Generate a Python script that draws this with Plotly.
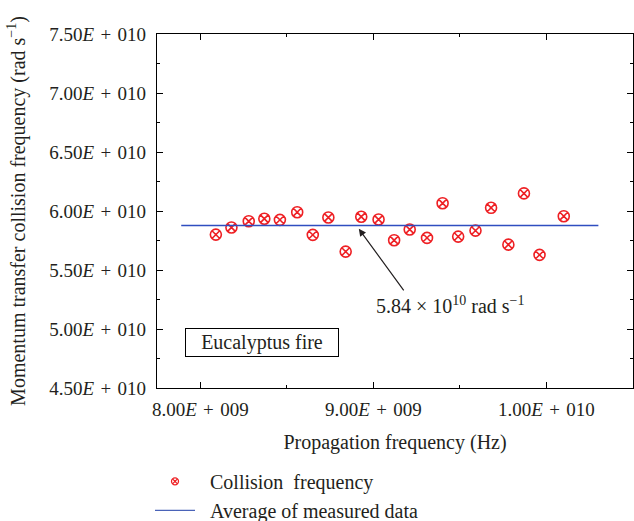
import plotly.graph_objects as go

# Data
freq_hz = [8.09e9, 8.18e9, 8.28e9, 8.37e9, 8.46e9, 8.56e9, 8.65e9, 8.74e9, 8.84e9, 8.93e9, 9.03e9,
           9.12e9, 9.21e9, 9.31e9, 9.40e9, 9.49e9, 9.59e9, 9.68e9, 9.78e9, 9.87e9, 9.96e9, 10.10e9]
collision = [5.80e10, 5.86e10, 5.913e10, 5.934e10, 5.925e10, 5.99e10, 5.798e10, 5.945e10, 5.656e10,
             5.951e10, 5.928e10, 5.752e10, 5.843e10, 5.772e10, 6.066e10, 5.783e10, 5.834e10,
             6.027e10, 5.715e10, 6.149e10, 5.628e10, 5.956e10]
avg_x = [7.89e9, 10.30e9]
avg_y = [5.877e10, 5.877e10]

SP = "\u2004"
x_tickvals = [8e9, 9e9, 10e9]
x_ticktext = [f"8.00<i>E</i>{SP}+{SP}009", f"9.00<i>E</i>{SP}+{SP}009", f"1.00<i>E</i>{SP}+{SP}010"]
y_tickvals = [4.5e10, 5.0e10, 5.5e10, 6.0e10, 6.5e10, 7.0e10, 7.5e10]
y_ticktext = [f"{v}<i>E</i>{SP}+{SP}010" for v in ["4.50", "5.00", "5.50", "6.00", "6.50", "7.00", "7.50"]]
x_minor = [8.5e9, 9.5e9, 10.5e9]
y_minor = [4.75e10, 5.25e10, 5.75e10, 6.25e10, 6.75e10, 7.25e10]

FONT = "Liberation Serif"
TXT = "#231f20"
RED = "#ee2024"
BLUE = "#2f4ec0"

fig = go.Figure()
fig.add_trace(go.Scatter(
    x=freq_hz, y=collision, mode="markers", name="Collision frequency", showlegend=False,
    marker=dict(symbol="circle-x-open", size=11, color=RED, line=dict(width=1.6, color=RED)),
))
fig.add_trace(go.Scatter(
    x=avg_x, y=avg_y, mode="lines", name="Average of measured data", showlegend=False,
    line=dict(color=BLUE, width=1.5),
))
# legend-only entries (no data) so the legend symbols match the reference sizes
fig.add_trace(go.Scatter(
    x=[None], y=[None], mode="markers", name="\u00a0\u00a0Collision\u00a0 frequency",
    marker=dict(symbol="circle-x-open", size=7, color=RED, line=dict(width=1.3, color=RED)),
))
fig.add_trace(go.Scatter(
    x=[None], y=[None], mode="lines", name="\u00a0\u00a0Average of measured data",
    line=dict(color="#4a63b8", width=1.3),
))

axis_common = dict(
    showline=True, linecolor="black", linewidth=1.3, mirror="ticks",
    ticks="inside", ticklen=6, tickwidth=1.3, tickcolor="black",
    showgrid=False, zeroline=False, automargin=False,
    tickfont=dict(family=FONT, size=19, color=TXT),
)

fig.update_xaxes(
    range=[7.75e9, 10.5e9], tickmode="array", tickvals=x_tickvals, ticktext=x_ticktext,
    minor=dict(tickmode="array", tickvals=x_minor, ticks="inside", ticklen=3, tickcolor="black", tickwidth=1.2),
    title=dict(text="Propagation frequency (Hz)", font=dict(family=FONT, size=20, color=TXT), standoff=16),
    ticklabelstandoff=4,
    **axis_common,
)
fig.update_yaxes(
    range=[4.5e10, 7.5e10], tickmode="array", tickvals=y_tickvals, ticktext=y_ticktext,
    minor=dict(tickmode="array", tickvals=y_minor, ticks="inside", ticklen=3, tickcolor="black", tickwidth=1.2),
    title=dict(text="Momentum transfer collision frequency (rad s<sup>\u22121</sup>)",
               font=dict(family=FONT, size=20, color=TXT), standoff=18),
    ticklabelstandoff=6,
    **axis_common,
)

fig.add_annotation(
    x=8.357e9, y=4.882e10, xref="x", yref="y", text="Eucalyptus fire", showarrow=False,
    font=dict(family=FONT, size=20, color=TXT),
    bordercolor="black", borderwidth=1, borderpad=2, width=148, height=23,
)
fig.add_annotation(
    x=8.916e9, y=5.849e10, xref="x", yref="y", text="", showarrow=True,
    ax=46, ay=63, arrowhead=2, arrowsize=1.2, arrowwidth=1.2, arrowcolor=TXT, standoff=0,
)
fig.add_annotation(
    x=9.447e9, y=5.20e10, xref="x", yref="y",
    text="5.84 \u00d7 10<sup>10</sup> rad s<sup>\u22121</sup>", showarrow=False,
    font=dict(family=FONT, size=20, color=TXT),
)

fig.update_layout(
    width=634, height=521,
    margin=dict(l=157, r=1, t=34, b=133, autoexpand=False),
    paper_bgcolor="white", plot_bgcolor="white",
    showlegend=True,
    legend=dict(
        x=-0.0147, xanchor="left", yref="container", y=0.1135, yanchor="top", orientation="v",
        font=dict(family=FONT, size=20, color=TXT),
        bgcolor="rgba(0,0,0,0)", tracegroupgap=0, itemwidth=40,
    ),
)

fig.write_html("out.html")
